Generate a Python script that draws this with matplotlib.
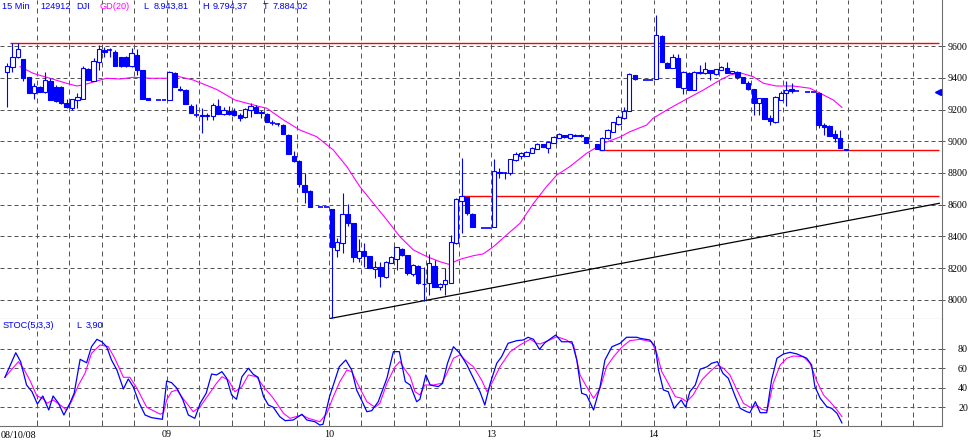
import numpy as np
import matplotlib.pyplot as plt

nan = np.nan

# DJI 15 min bars, 30 slots per session (the last ones are the flat after-hours prints)
day_labels = ['08/10/08', '09', '10', '13', '14', '15']
day_starts = [0, 30, 60, 90, 120, 150]

opens = [9438, 9470, 9533, 9516, 9403, 9306, 9344, 9312, 9381, 9340,
         9340, 9243, 9211, 9260, 9266, 9453, 9381, 9501, 9575, 9572,
         9560, 9533, 9533, 9474, 9543, 9449, 9270, nan, 9263, 9263,
         9260, 9432, 9329, 9323, 9222, 9165, 9165, 9161, 9159, 9222,
         9172, 9190, 9190, 9165, 9151, 9197, 9216, 9180, 9172, 9117,
         9107, 9102, 9039, 8907, 8877, 8724, 8688, nan, 8584, 8584,
         8573, 8315, 8361, 8540, 8483, 8266, 8308, 8277, 8193, 8206,
         8143, 8235, 8256, 8319, 8283, 8164, 8214, 8101, 8105, 8214,
         8080, 8101, 8109, 8361, 8624, 8651, 8542, nan, 8456, 8456,
         8462, 8802, 8800, 8802, 8882, 8907, 8907, 8924, 8951, 8981,
         8955, 8987, 9019, 9039, 9019, 9035, 9039, 9025, nan, 8983,
         8945, 9019, 9060, 9109, 9144, 9190, 9417, nan, 9386, 9386,
         9390, 9665, 9495, 9460, 9522, 9334, 9432, 9323, 9428, 9428,
         9449, 9424, 9449, 9460, 9432, 9438, 9403, 9369, 9327, 9239,
         9270, 9144, 9123, 9260, 9306, 9327, 9318, nan, 9312, 9312,
         9306, 9102, 9096, 9046, 9022, 8950]
highs = [9491, 9617, 9617, 9516, 9403, 9365, 9350, 9438, 9398, 9354,
         9345, 9264, 9266, 9302, 9474, 9460, 9524, 9604, 9596, 9589,
         9575, 9533, 9540, 9585, 9579, 9449, 9270, nan, 9263, 9263,
         9442, 9435, 9348, 9331, 9235, 9233, 9209, 9180, 9241, 9264,
         9218, 9222, 9209, 9176, 9209, 9239, 9230, 9197, 9178, 9134,
         9117, 9109, 9046, 8939, 8882, 8798, 8693, nan, 8584, 8584,
         8573, 8390, 8676, 8605, 8483, 8382, 8361, 8280, 8248, 8241,
         8245, 8277, 8336, 8325, 8285, 8227, 8220, 8210, 8290, 8252,
         8107, 8200, 8409, 8640, 8893, 8651, 8545, nan, 8456, 8456,
         8886, 8830, 8808, 8890, 8934, 8934, 8939, 8964, 8991, 8985,
         8997, 9033, 9050, 9042, 9048, 9046, 9044, 9027, nan, 8985,
         9025, 9075, 9122, 9165, 9218, 9428, 9420, nan, 9386, 9386,
         9794, 9670, 9497, 9548, 9548, 9440, 9435, 9444, 9480, 9501,
         9452, 9455, 9474, 9501, 9445, 9440, 9405, 9380, 9330, 9272,
         9272, 9165, 9285, 9318, 9380, 9369, 9318, nan, 9312, 9312,
         9310, 9113, 9102, 9071, 9071, 8950]
lows = [9216, 9438, 9525, 9381, 9306, 9266, 9310, 9302, 9260, 9247,
        9235, 9208, 9197, 9208, 9266, 9386, 9380, 9449, 9533, 9533,
        9474, 9468, 9470, 9468, 9417, 9266, 9260, nan, 9263, 9263,
        9260, 9340, 9318, 9235, 9176, 9153, 9050, 9134, 9134, 9172,
        9165, 9165, 9161, 9125, 9146, 9155, 9176, 9144, 9123, 9102,
        9096, 9044, 8918, 8871, 8710, 8613, 8584, nan, 8584, 8584,
        7884, 8273, 8294, 8466, 8241, 8237, 8210, 8200, 8137, 8084,
        8138, 8233, 8189, 8277, 8157, 8151, 8101, 7995, 8031, 8082,
        8063, 8031, 8105, 8355, 8420, 8535, 8458, nan, 8456, 8456,
        8462, 8767, 8760, 8787, 8876, 8886, 8905, 8924, 8950, 8965,
        8928, 8987, 9019, 9022, 9017, 9031, 9029, 8991, nan, 8951,
        8945, 9017, 9058, 9105, 9140, 9190, 9388, nan, 9386, 9386,
        9390, 9497, 9460, 9460, 9340, 9298, 9320, 9320, 9425, 9425,
        9386, 9420, 9447, 9430, 9430, 9392, 9365, 9325, 9165, 9165,
        9138, 9102, 9113, 9258, 9222, 9302, 9318, nan, 9312, 9312,
        9081, 9039, 9031, 8997, 8957, 8944]
closes = [9474, 9533, 9579, 9397, 9306, 9348, 9312, 9386, 9260, 9255,
          9239, 9218, 9266, 9277, 9460, 9386, 9507, 9579, 9564, 9572,
          9474, 9474, 9476, 9554, 9449, 9266, 9260, nan, 9263, 9263,
          9438, 9340, 9326, 9235, 9176, 9165, 9161, 9165, 9228, 9172,
          9197, 9172, 9165, 9144, 9201, 9222, 9180, 9184, 9123, 9117,
          9107, 9044, 8918, 8877, 8731, 8682, 8584, nan, 8584, 8584,
          8336, 8367, 8540, 8487, 8273, 8308, 8277, 8200, 8210, 8151,
          8241, 8269, 8332, 8283, 8168, 8220, 8105, 8099, 8231, 8084,
          8101, 8126, 8367, 8634, 8657, 8546, 8458, nan, 8456, 8456,
          8813, 8806, 8800, 8886, 8920, 8924, 8930, 8955, 8981, 8966,
          8993, 9025, 9044, 9025, 9044, 9041, 9033, 8991, nan, 8951,
          9022, 9071, 9119, 9155, 9190, 9424, 9390, nan, 9386, 9386,
          9669, 9497, 9463, 9529, 9340, 9438, 9323, 9438, 9438, 9453,
          9428, 9453, 9470, 9432, 9442, 9403, 9369, 9327, 9243, 9270,
          9140, 9129, 9277, 9306, 9323, 9316, 9318, nan, 9312, 9312,
          9102, 9088, 9033, 9019, 8959, 8944]

# GD(20) moving average (bar position, value)
ma_x = [2.9, 5.3, 8.4, 11.5, 13.4, 15.2, 17.1, 18.9, 21.4, 23.8, 26.9, 30.0, 31.8,
        34.9, 39.2, 42.6, 47.2, 48.5, 51.6, 54.6, 57.7, 60.8, 63.3, 65.7, 68.2,
        70.7, 73.1, 75.6, 78.1, 80.5, 82.1, 84.2, 86.7, 88.5, 90.4, 92.8, 95.3,
        97.8, 100.2, 102.1, 104.5, 107.6, 110.7, 113.8, 115.6, 118.7, 119.9,
        123.0, 126.1, 129.2, 132.3, 134.1, 135.9, 138.4, 140.3, 142.7, 145.8,
        148.9, 150.8, 153.2, 154.8]
ma_v = [9470, 9428, 9397, 9365, 9348, 9361, 9380, 9397, 9392, 9403, 9397, 9397, 9411,
        9386, 9327, 9260, 9218, 9208, 9134, 9071, 9029, 8945, 8840, 8714, 8609,
        8504, 8399, 8315, 8273, 8241, 8225, 8256, 8279, 8290, 8336, 8409, 8483,
        8609, 8714, 8787, 8840, 8924, 8987, 9027, 9060, 9102, 9145, 9208, 9266,
        9323, 9386, 9417, 9432, 9407, 9365, 9348, 9348, 9334, 9302, 9260, 9214]

# STOC(5,3,3): %K (blue) and %D (magenta)
k_x = [0.1, 2.1, 3.0, 4.1, 5.1, 6.1, 7.1, 8.2, 9.0, 10.0, 11.0, 12.1, 12.9, 14.0, 15.2,
       16.1, 17.1, 18.0, 18.9, 19.8, 20.8, 22.0, 22.9, 23.8, 24.9, 26.0, 27.2, 29.2,
       30.0, 30.9, 31.9, 33.0, 34.0, 35.2, 36.2, 37.3, 38.3, 39.2, 40.2, 41.1, 42.0,
       42.9, 43.9, 45.1, 46.0, 46.9, 47.9, 48.8, 49.7, 50.9, 51.9, 53.4, 55.0, 55.9,
       57.4, 58.3, 58.9, 60.1, 61.9, 63.1, 64.2, 65.1, 66.0, 67.0, 67.9, 69.1, 70.7,
       71.9, 73.0, 74.1, 75.0, 76.2, 76.8, 77.9, 78.7, 80.2, 81.0, 81.9, 83.0, 84.2,
       85.5, 86.7, 87.9, 88.8, 89.8, 91.0, 91.9, 93.1, 94.7, 95.9, 96.8, 97.8, 98.9,
       99.9, 101.9, 103.0, 104.9, 105.8, 106.7, 107.6, 108.9, 110.1, 111.0, 112.3,
       113.8, 115.0, 116.9, 117.5, 119.3, 120.3, 120.9, 121.8, 122.7, 123.8, 125.1,
       125.9, 126.7, 127.7, 128.6, 129.9, 130.7, 131.8, 132.8, 133.8, 135.1, 136.0,
       137.2, 137.8, 138.8, 139.7, 140.9, 141.8, 142.8, 144.0, 145.2, 146.5, 148.3,
       149.2, 149.8, 150.8, 152.0, 152.9, 153.9, 154.8]
k_v = [50.8, 76.1, 66.9, 42.9, 36.0, 23.4, 31.6, 17.2, 31.6, 24.1, 12.0, 24.1, 34.4, 69.3, 65.8,
       82.3, 89.9, 87.4, 82.3, 68.6, 58.3, 38.8, 49.1, 41.2, 24.7, 12.0, 9.3, 7.6,
       47.0, 45.3, 39.5, 27.5, 12.0, 8.6, 24.1, 34.4, 54.2, 53.2, 56.6, 49.8, 32.6,
       28.2, 51.4, 60.1, 53.9, 50.8, 30.9, 22.3, 20.0, 10.3, 6.2, 6.9, 12.8, 6.9,
       5.1, 1.7, 2.5, 30.9, 61.7, 68.6, 58.3, 37.8, 27.5, 15.4, 16.5, 25.7, 49.8,
       77.2, 77.2, 46.3, 42.9, 25.7, 28.2, 53.2, 42.9, 41.2, 44.6, 65.2, 82.3, 75.5,
       63.5, 49.8, 36.0, 22.3, 44.6, 65.2, 72.0, 85.8, 88.5, 89.2, 92.0, 89.9, 79.6,
       86.4, 94.3, 87.4, 87.4, 68.6, 34.4, 32.6, 17.2, 41.2, 68.6, 82.3,
       85.8, 92.0, 92.0, 90.9, 89.2, 82.3, 58.3, 37.8, 36.0, 18.9, 27.5,
       20.0, 36.0, 42.9, 59.1, 61.7, 65.2, 66.9, 54.9, 49.8, 30.9, 18.9,
       15.4, 14.4, 25.7, 14.4, 14.4, 48.0, 70.4, 74.8, 76.5, 74.8, 70.4,
       63.5, 41.2, 29.2, 20.6, 18.9, 13.7, 3.9]
d_x = [0.1, 2.6, 3.5, 4.7, 6.0, 7.1, 7.9, 9.0, 10.3, 11.5, 12.4, 13.7, 14.9, 16.1, 17.7,
       19.2, 20.4, 22.0, 23.2, 24.5, 26.3, 28.8, 29.4, 30.0, 30.9, 31.9, 33.0, 34.9,
       36.2, 37.7, 39.2, 40.2, 41.4, 42.6, 43.9, 45.1, 46.6, 47.9, 49.7, 51.6, 52.8,
       55.0, 56.2, 58.3, 59.6, 60.8, 62.0, 63.3, 64.2, 65.4, 67.0, 68.5, 69.4, 70.7,
       72.2, 73.1, 74.1, 75.0, 75.9, 76.8, 77.7, 79.3, 80.8, 81.8, 83.0, 84.2, 85.5,
       86.7, 88.2, 89.2, 90.4, 91.6, 93.5, 95.3, 97.2, 98.4, 99.0, 100.8, 102.1,
       103.9, 105.2, 106.4, 107.6, 108.9, 110.1, 111.3, 112.6, 114.1, 115.6, 117.5,
       119.6, 120.6, 121.5, 122.7, 124.0, 125.2, 126.1, 127.3, 128.9, 130.4, 131.8,
       132.9, 134.1, 135.4, 136.6, 137.8, 138.4, 139.0, 140.0, 141.0, 142.1, 143.4,
       144.6, 145.8, 147.7, 148.9, 150.2, 151.4, 152.6, 153.9, 154.8]
d_v = [50.8, 66.9, 60.1, 48.0, 31.6, 29.2, 24.1, 27.5, 22.3, 17.2, 25.7, 42.9, 54.9, 75.5, 84.1,
       82.3, 70.4, 50.8, 50.8, 39.5, 20.0, 12.8, 14.4, 27.5, 36.0, 37.8, 29.2, 15.4,
       20.6, 32.6, 44.6, 51.4, 48.0, 36.0, 41.2, 53.2, 51.4, 41.2, 29.2, 13.7, 8.6,
       12.0, 8.6, 5.1, 13.7, 30.9, 46.3, 58.3, 56.6, 42.9, 25.7, 20.0, 24.1, 44.6,
       61.7, 66.9, 58.3, 51.4, 36.0, 32.6, 42.9, 42.9, 44.6, 54.9, 70.4, 73.8, 66.9,
       61.7, 48.0, 36.0, 48.0, 61.7, 77.2, 84.1, 89.9, 85.8, 85.1, 89.2, 92.6,
       89.2, 84.1, 53.2, 41.2, 29.2, 39.5, 61.7, 72.0, 81.7, 88.5, 89.9,
       87.4, 75.5, 56.6, 44.6, 30.9, 29.2, 25.7, 32.6, 48.0, 56.6, 63.5,
       60.1, 53.2, 37.8, 24.1, 20.0, 20.0, 22.3, 17.9, 16.5, 44.6, 63.5,
       70.4, 72.7, 72.0, 65.2, 46.3, 32.6, 25.7, 17.2, 10.3]

# drawn levels: resistance / support lines and the rising trend line
levels = [9617, 8654, 8948]
level_start = [1.0, 84.8, 109.9]
level_end = 172.8
trend_x = [60.3, 172.8]
trend_y = [7884, 8609]
last_marker = 9310

blue = '#0000ff'
magenta = '#ff00ff'
red = '#ff0000'
gridc = '#555555'
W, H = 973, 443

o = np.array(opens, float)
h = np.array(highs, float)
l = np.array(lows, float)
c = np.array(closes, float)
x = np.arange(len(o)) + 0.5
ok = ~np.isnan(o)
up = ok & (c > o)
dn = ok & (c < o)
flat = ok & (c == o)

fig = plt.figure(figsize=(W / 100, H / 100), dpi=100)
ax = fig.add_axes([0, (H - 319) / H, 942 / W, 319 / H])
ax2 = fig.add_axes([0, (H - 426) / H, 942 / W, 107 / H])

xmin, xmax = -0.81, 173.3
vgrid = np.arange(6, 173, 6)

for a in (ax, ax2):
    a.set_xlim(xmin, xmax)
    a.spines['left'].set_visible(False)
    a.spines['top'].set_visible(False)
    for s in ('bottom', 'right'):
        a.spines[s].set_color('#707070')
        a.spines[s].set_linewidth(0.8)
    for v in vgrid:
        a.axvline(v, color=gridc, lw=0.72, ls=(0, (5, 4)), zorder=1)
    a.yaxis.tick_right()
    a.tick_params(axis='y', direction='out', length=2.2, width=0.7, color='#555555',
                  pad=16.5, labelsize=7.2)
    a.yaxis.grid(True, color=gridc, lw=0.72, ls=(0, (4, 3)))
    a.set_axisbelow(True)

# price panel
ax.set_ylim(7880, 9890)
ax.set_yticks(range(8000, 9601, 200))
ax.set_xticks([])
for t in ax.get_yticklabels():
    t.set_ha('right')
    t.set_family('Liberation Serif')

ax.plot(ma_x, ma_v, color=magenta, lw=0.8, zorder=2)
for lv, st in zip(levels, level_start):
    ax.hlines(lv, st, level_end, color=red, lw=1.0, zorder=2)
ax.plot(trend_x, trend_y, color='black', lw=0.9, zorder=2)

ax.vlines(x[ok], l[ok], h[ok], color=blue, lw=0.8, zorder=3)
ax.bar(x[up], (c - o)[up], bottom=o[up], width=0.8, facecolor='white',
       edgecolor=blue, linewidth=0.8, zorder=4)
ax.bar(x[dn], (o - c)[dn], bottom=c[dn], width=0.8, facecolor=blue,
       edgecolor=blue, linewidth=0.8, zorder=4)
ax.hlines(o[flat], x[flat] - 0.45, x[flat] + 0.45, color=blue, lw=1.2, zorder=4)
ax.plot([172.6], [last_marker], marker='<', ms=4.5, color=blue, clip_on=False, zorder=5)

# stochastic panel
ax2.set_ylim(0.7, 110.8)
ax2.set_yticks([20, 40, 60, 80])
for t in ax2.get_yticklabels():
    t.set_ha('right')
    t.set_family('Liberation Serif')
ax2.plot(d_x, d_v, color=magenta, lw=0.8, zorder=3)
ax2.plot(k_x, k_v, color=blue, lw=0.9, zorder=4)

ax2.set_xticks(day_starts[1:], day_labels[1:])
ax2.set_xticks([v for v in vgrid if v % 30 != 0], minor=True)
ax2.tick_params(axis='x', which='both', direction='in', length=4, width=0.7,
                color='#555555', pad=3, labelsize=7.2)
for t in ax2.get_xticklabels():
    t.set_family('Liberation Serif')
fig.text(0.5 / W, 1 - 435 / H, day_labels[0], ha='left', va='center',
         family='Liberation Serif', fontsize=7.2)

# header texts
hy = 1 - 6.5 / H
head = [(2, '15 Min', blue), (40, '124912', blue), (76, 'DJI', blue),
        (100, 'GD(20)', magenta), (143, 'L', blue), (154, '8.943,81', blue),
        (202, 'H', blue), (213, '9.794,37', blue), (263, 'T', blue),
        (273, '7.884,02', blue)]
for px, s, col in head:
    fig.text(px / W, hy, s, color=col, ha='left', va='center',
             family='Liberation Sans', fontsize=6.6)
sy = 1 - 325 / H
for px, s in [(3, 'STOC(5,3,3)'), (76, 'L'), (86, '3,90')]:
    fig.text(px / W, sy, s, color=blue, ha='left', va='center',
             family='Liberation Sans', fontsize=6.6)

fig.savefig('out.png', dpi=100)
